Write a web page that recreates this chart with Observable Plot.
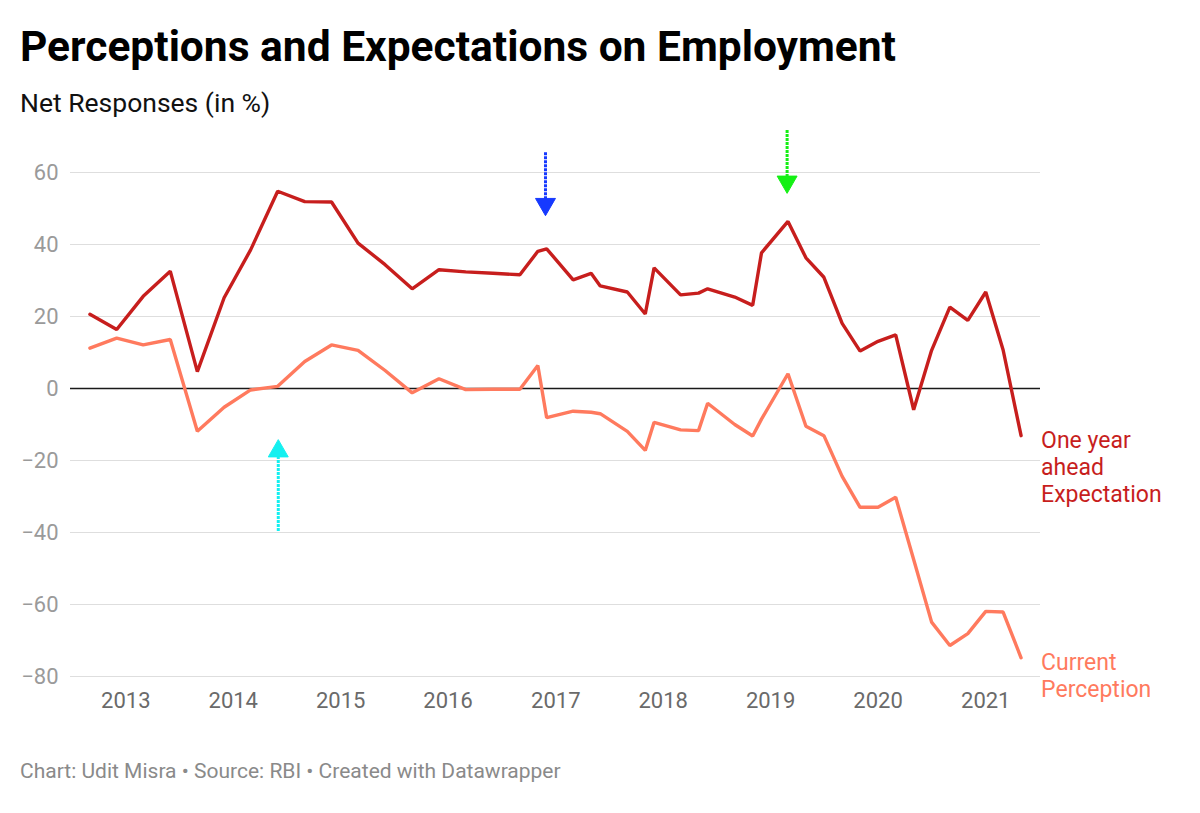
<!DOCTYPE html>
<html>
<head>
<meta charset="utf-8">
<script src="https://cdn.jsdelivr.net/npm/d3@7"></script>
<script src="https://cdn.jsdelivr.net/npm/@observablehq/plot@0.6"></script>
<style>
  html, body { margin: 0; padding: 0; background: #fff; }
  body { width: 1200px; height: 813px; position: relative; font-family: Roboto, "Noto Sans", sans-serif; }
  #title { position: absolute; left: 20px; top: 22px; font-size: 42.5px; line-height: normal; font-weight: 700; color: #000; white-space: nowrap; }
  #subtitle { position: absolute; left: 20px; top: 87px; font-size: 26.5px; line-height: normal; color: #111; white-space: nowrap; }
  #chart { position: absolute; left: 0; top: 120px; }
  #footer { position: absolute; left: 20px; top: 759px; font-size: 21px; line-height: normal; color: #8a8a8a; white-space: nowrap; }
</style>
</head>
<body>
<div id="title">Perceptions and Expectations on Employment</div>
<div id="subtitle">Net Responses (in %)</div>
<div id="chart"></div>
<div id="footer">Chart: Udit Misra • Source: RBI • Created with Datawrapper</div>
<script>
// Survey rounds (RBI Consumer Confidence Survey)
const surveyDates = [
  "2012-09-01","2012-12-01","2013-03-01","2013-06-01","2013-09-01","2013-12-01",
  "2014-03-01","2014-06-01","2014-09-01","2014-12-01","2015-03-01","2015-06-01",
  "2015-09-01","2015-12-01","2016-03-01","2016-06-01","2016-09-01","2016-11-01",
  "2016-12-01","2017-03-01","2017-05-01","2017-06-01","2017-09-01","2017-11-01",
  "2017-12-01","2018-03-01","2018-05-01","2018-06-01","2018-09-01","2018-11-01",
  "2018-12-01","2019-03-01","2019-05-01","2019-07-01","2019-09-01","2019-11-01",
  "2020-01-01","2020-03-01","2020-05-01","2020-07-01","2020-09-01","2020-11-01",
  "2021-01-01","2021-03-01","2021-05-01"
];
// One year ahead Expectation (net responses, %)
const expectation = [
  20.6, 16.4, 25.6, 32.6, 4.7, 25.2,
  38.5, 54.8, 51.9, 51.8, 40.4, 34.4,
  27.7, 33.0, 32.4, 32.0, 31.6, 38.1,
  38.8, 30.2, 32.0, 28.5, 26.8, 20.7,
  33.5, 26.0, 26.5, 27.7, 25.4, 23.1,
  37.7, 46.4, 36.3, 30.9, 18.1, 10.4,
  13.1, 14.9, -5.9, 10.6, 22.6, 18.9,
  26.8, 10.7, -13.1
];
// Current Perception (net responses, %)
const perception = [
  11.2, 14.0, 12.1, 13.6, -11.9, -5.2,
  -0.4, 0.6, 7.5, 12.1, 10.6, 5.0,
  -1.2, 2.7, -0.3, -0.2, -0.2, 6.4,
  -8.1, -6.3, -6.6, -7.0, -11.9, -17.2,
  -9.4, -11.5, -11.7, -4.1, -10.0, -13.2,
  -8.5, 4.1, -10.5, -13.1, -24.4, -33.0,
  -33.0, -30.2, -47.5, -64.9, -71.4, -68.1,
  -61.9, -62.1, -74.8
];
const seriesNames = ["One year\nahead\nExpectation", "Current\nPerception"];
const seriesColors = ["#c71e1d", "#ff7a5e"];
const yTicks = [-80, -60, -40, -20, 0, 20, 40, 60];
const yearTicks = ["2013","2014","2015","2016","2017","2018","2019","2020","2021"];

// Hand-drawn annotation arrows
const arrowDates = ["2016-11-27", "2019-02-26", "2014-06-03"];
const arrowTail = [65.5, 71.7, -39.7];
const arrowHead = [51.2, 57.4, -17.4];
const arrowColors = ["#1639ff", "#14f014", "#14f0f0"];
const arrowRotate = [180, 180, 0];

const parse = d3.utcParse("%Y-%m-%d");
const expData = surveyDates.map((d, i) => ({date: parse(d), value: expectation[i]}));
const perData = surveyDates.map((d, i) => ({date: parse(d), value: perception[i]}));
const arrows = arrowDates.map((d, i) => ({date: parse(d), tail: arrowTail[i], head: arrowHead[i], color: arrowColors[i], rotate: arrowRotate[i]}));
const lastLabels = [
  {...expData[expData.length - 1], label: seriesNames[0], color: seriesColors[0]},
  {...perData[perData.length - 1], label: seriesNames[1], color: seriesColors[1]}
];

const chart = Plot.plot({
  width: 1200,
  height: 620,
  marginTop: 52,
  marginBottom: 64,
  marginLeft: 70,
  marginRight: 160,
  style: {fontFamily: "Roboto, sans-serif", background: "#fff", overflow: "visible"},
  x: {type: "utc", domain: [new Date(Date.UTC(2012, 5, 27)), new Date(Date.UTC(2021, 6, 6))]},
  y: {domain: [-80, 60]},
  marks: [
    Plot.gridY(yTicks.filter(d => d !== 0), {stroke: "#dedede", strokeOpacity: 1, strokeWidth: 1.2}),
    Plot.axisY(yTicks, {tickSize: 0, tickPadding: 12, fontSize: 22, color: "#9a9a9a", label: null}),
    Plot.axisX(yearTicks.map(y => parse(y + "-01-01")), {tickSize: 0, tickPadding: 16, fontSize: 22, color: "#6a6a6a", tickFormat: "%Y", label: null}),
    Plot.ruleY([0], {stroke: "#1a1a1a", strokeWidth: 1.7}),
    Plot.line(perData, {x: "date", y: "value", stroke: seriesColors[1], strokeWidth: 3.4, strokeLinejoin: "miter", curve: "linear"}),
    Plot.line(expData, {x: "date", y: "value", stroke: seriesColors[0], strokeWidth: 3.4, strokeLinejoin: "miter", curve: "linear"}),
    Plot.text(lastLabels, {x: "date", y: "value", text: "label", fill: "color", dx: 20, dy: -7, textAnchor: "start", lineAnchor: "top", lineHeight: 1.17, fontSize: 23}),
    Plot.ruleX(arrows, {x: "date", y1: "tail", y2: "head", stroke: "color", strokeWidth: 3, strokeDasharray: "3,1"}),
    Plot.dot(arrows, {x: "date", y: "head", symbol: "triangle", r: 7.4, fill: "color", stroke: "color", strokeWidth: 1, rotate: "rotate"})
  ]
});
document.getElementById("chart").appendChild(chart);
</script>
</body>
</html>
